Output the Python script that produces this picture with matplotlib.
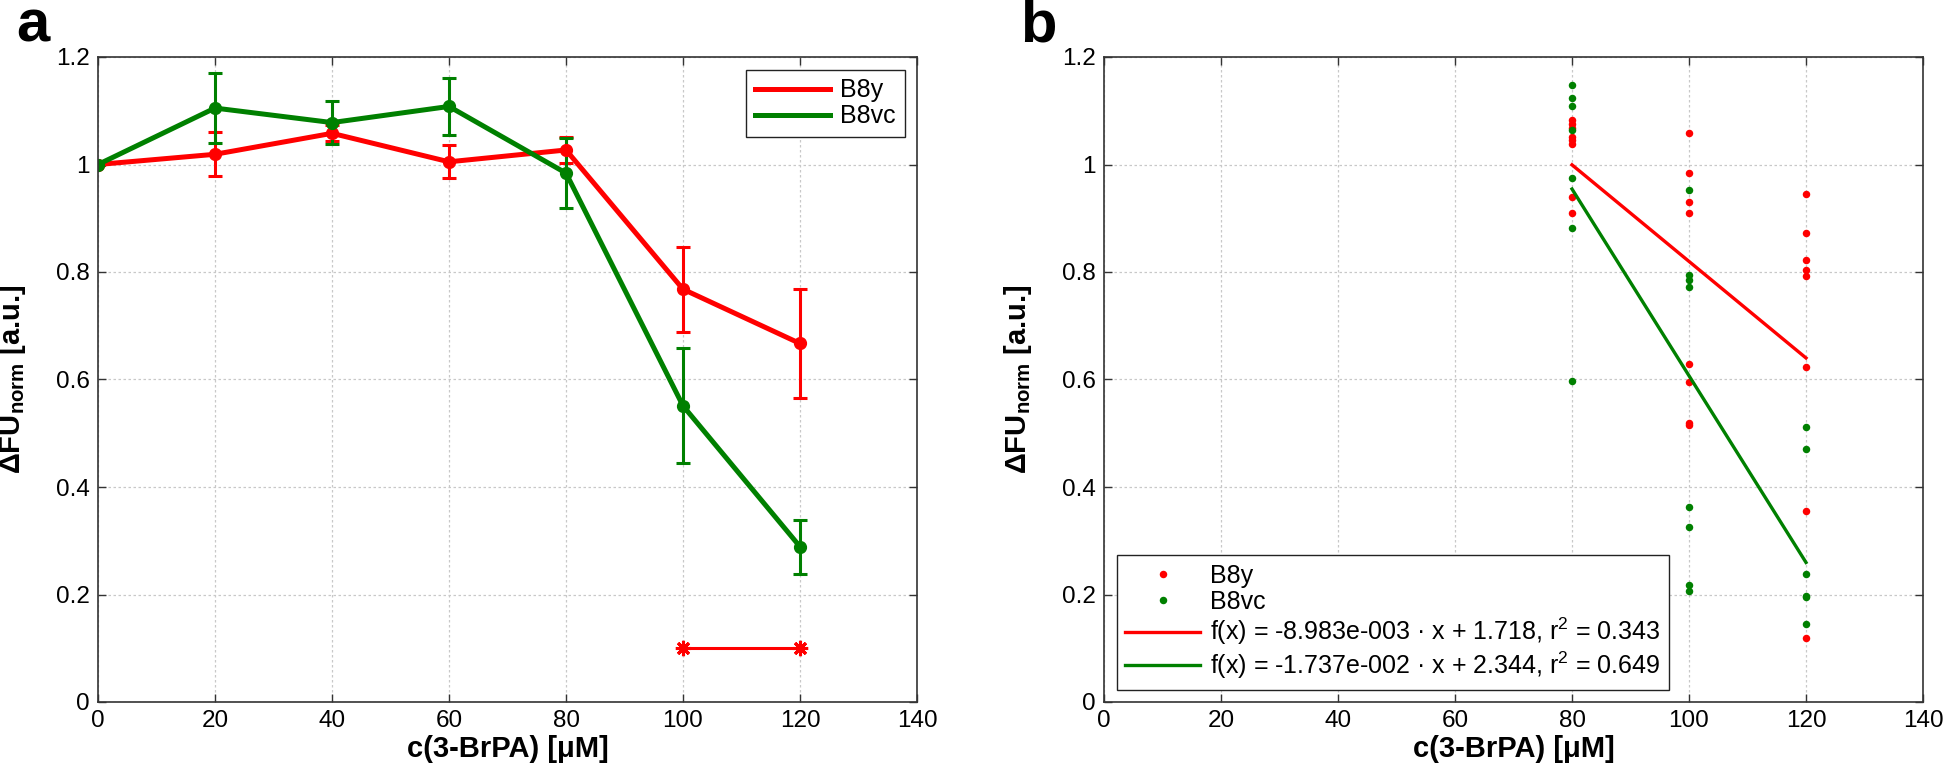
import numpy as np
import matplotlib
matplotlib.use("Agg")
import matplotlib.pyplot as plt
from matplotlib.ticker import FormatStrFormatter

plt.rcParams['font.family'] = ['Liberation Sans', 'DejaVu Sans']
plt.rcParams['mathtext.fontset'] = 'custom'
plt.rcParams['mathtext.rm'] = 'Liberation Sans'
plt.rcParams['mathtext.bf'] = 'Liberation Sans:bold'
plt.rcParams['mathtext.default'] = 'rm'

# panel a: mean response with error bars
conc = [0, 20, 40, 60, 80, 100, 120]
b8y_mean = [1.0, 1.019, 1.058, 1.005, 1.027, 0.768, 0.667]
b8y_err = [0.0, 0.041, 0.015, 0.031, 0.025, 0.079, 0.101]
b8vc_mean = [1.0, 1.105, 1.078, 1.108, 0.984, 0.551, 0.289]
b8vc_err = [0.0, 0.065, 0.040, 0.053, 0.065, 0.107, 0.050]
sig_x = [100, 120]
sig_y = [0.1, 0.1]

# panel b: single measurements and linear fits
b8y_x = [80] * 8 + [100] * 8 + [120] * 8
b8y_y = [1.083, 1.075, 1.067, 1.052, 1.046, 1.039, 0.940, 0.909,
         1.059, 0.985, 0.931, 0.910, 0.629, 0.596, 0.520, 0.515,
         0.946, 0.872, 0.822, 0.804, 0.793, 0.623, 0.356, 0.120]
b8vc_x = [80] * 7 + [100] * 8 + [120] * 6
b8vc_y = [1.148, 1.123, 1.108, 1.064, 0.974, 0.881, 0.597,
          0.953, 0.794, 0.785, 0.773, 0.363, 0.325, 0.217, 0.207,
          0.511, 0.471, 0.238, 0.197, 0.195, 0.145]
fit_x = np.array([80, 120])
fit_slope = [-8.983e-3, -1.737e-2]
fit_icpt = [1.718, 2.344]
fit_labels = ["f(x) = -8.983e-003 · x + 1.718, r$^2$ = 0.343",
              "f(x) = -1.737e-002 · x + 2.344, r$^2$ = 0.649"]

RED = '#ff0000'
GREEN = '#008000'
TICK_FS = 17.5
LAB_FS = 21
LEG_FS = 18

fig = plt.figure(figsize=(19.46, 7.76), dpi=100)
ax_a = fig.add_axes([98 / 1946, 74 / 776, 819 / 1946, 645 / 776])
ax_b = fig.add_axes([1104 / 1946, 74 / 776, 819 / 1946, 645 / 776])


def style_axes(ax):
    ax.set_xlim(0, 140)
    ax.set_ylim(0, 1.2)
    ax.set_xticks(np.arange(0, 141, 20))
    ax.set_yticks(np.arange(0, 1.21, 0.2))
    ax.yaxis.set_major_formatter(FormatStrFormatter('%g'))
    ax.grid(True, color='#c8c8c8', linestyle=(0, (2, 2)), linewidth=0.9)
    ax.set_axisbelow(True)
    ax.tick_params(direction='in', length=6, width=1.0, top=True, right=True,
                   labelsize=TICK_FS, color='#333333', pad=6)
    for sp in ax.spines.values():
        sp.set_linewidth(1.2)
        sp.set_color('#333333')
    ax.set_xlabel('c(3-BrPA) [μM]', fontsize=LAB_FS, fontweight='bold', labelpad=2)
    ax.set_ylabel(r'ΔFU$_{\mathbf{norm}}$ [a.u.]', fontsize=LAB_FS, fontweight='bold')
    ax.yaxis.set_label_coords(-0.085, 0.5)


def make_legend(ax, handles, labels, loc):
    leg = ax.legend(handles, labels, loc=loc, fontsize=LEG_FS, handlelength=3.0,
                    handletextpad=0.4, borderpad=0.35, labelspacing=0.08,
                    borderaxespad=0.5, fancybox=False, framealpha=1,
                    edgecolor='#222222')
    leg.get_frame().set_linewidth(1.0)
    return leg


# panel a
style_axes(ax_a)
ax_a.errorbar(conc, b8y_mean, yerr=b8y_err, color=RED, lw=3.6, marker='o', ms=8.5,
              elinewidth=2.2, capsize=4.7, capthick=2.2)
ax_a.errorbar(conc, b8vc_mean, yerr=b8vc_err, color=GREEN, lw=3.6, marker='o', ms=8.5,
              elinewidth=2.2, capsize=4.7, capthick=2.2)
ax_a.plot(sig_x, sig_y, color=RED, lw=2.2, marker=(8, 2, 0), ms=11, mew=2.2)
make_legend(ax_a, [plt.Line2D([], [], color=RED, lw=3.6),
                   plt.Line2D([], [], color=GREEN, lw=3.6)],
            ['B8y', 'B8vc'], 'upper right')

# panel b
style_axes(ax_b)
p1, = ax_b.plot(b8y_x, b8y_y, 'o', color=RED, ms=5.4, mec='none')
p2, = ax_b.plot(b8vc_x, b8vc_y, 'o', color=GREEN, ms=5.4, mec='none')
l1, = ax_b.plot(fit_x, fit_slope[0] * fit_x + fit_icpt[0], color=RED, lw=2.4)
l2, = ax_b.plot(fit_x, fit_slope[1] * fit_x + fit_icpt[1], color=GREEN, lw=2.4)
make_legend(ax_b, [p1, p2, l1, l2], ['B8y', 'B8vc'] + fit_labels, 'lower left')

fig.text(0.0085, 0.946, 'a', fontsize=43, fontweight='bold', va='baseline')
fig.text(0.524, 0.946, 'b', fontsize=43, fontweight='bold', va='baseline')

fig.savefig('out.png', dpi=100)
